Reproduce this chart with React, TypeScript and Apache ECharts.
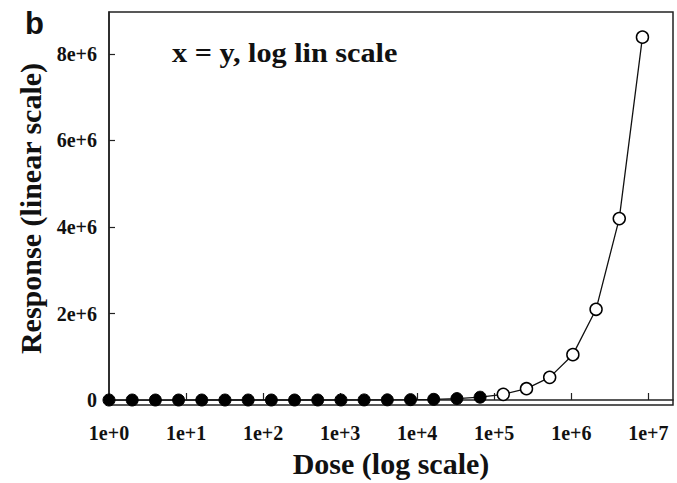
import React, { useEffect, useRef } from "react";
import * as echarts from "echarts";

// Dose values (x) — powers of two from 1 to ~8.4e6
const filledDoses = [1, 2, 4, 8, 16, 32, 64, 128, 256, 512, 1024, 2048, 4096, 8192, 16384, 32768, 65536];
const openDoses = [131072, 262144, 524288, 1048576, 2097152, 4194304, 8388608];
// Responses (y = x)
const filledResponses = [1, 2, 4, 8, 16, 32, 64, 128, 256, 512, 1024, 2048, 4096, 8192, 16384, 32768, 65536];
const openResponses = [131072, 262144, 524288, 1048576, 2097152, 4194304, 8388608];

const yTickValues = [0, 2000000, 4000000, 6000000, 8000000];
const xTickLabels = ["1e+0", "1e+1", "1e+2", "1e+3", "1e+4", "1e+5", "1e+6", "1e+7"];

const SERIF = "'Liberation Serif', 'Times New Roman', serif";

export default function App() {
  const ref = useRef<HTMLDivElement>(null);
  useEffect(() => {
    if (!ref.current) return;
    const chart = echarts.init(ref.current, null, { renderer: "svg" });
    const lineData: any[] = [];
    filledDoses.forEach((d, i) => {
      lineData.push({
        value: [d, filledResponses[i]],
        itemStyle: { color: "#000", borderColor: "#000", borderWidth: 1 },
      });
    });
    openDoses.forEach((d, i) => {
      lineData.push({
        value: [d, openResponses[i]],
        itemStyle: { color: "#fff", borderColor: "#000", borderWidth: 1.5 },
      });
    });
    chart.setOption({
      animation: false,
      backgroundColor: "#fff",
      grid: {
        left: 109,
        right: 4,
        top: 12,
        bottom: 78,
        show: true,
        borderColor: "#222",
        borderWidth: 1.5,
        backgroundColor: "transparent",
      },
      xAxis: {
        type: "log",
        logBase: 10,
        min: 1,
        max: 20900000,
        splitNumber: 7,
        name: "Dose (log scale)",
        nameLocation: "middle",
        nameGap: 43,
        nameTextStyle: { fontFamily: SERIF, fontWeight: "bold", fontSize: 30, color: "#111" },
        axisLine: { show: true, lineStyle: { color: "#222", width: 1.5 } },
        axisTick: { show: true, inside: true, length: 7, lineStyle: { color: "#222", width: 1.2 } },
        splitLine: { show: false },
        minorTick: { show: false },
        axisLabel: {
          margin: 18,
          fontFamily: SERIF,
          fontWeight: "bold",
          fontSize: 20,
          color: "#111",
          showMaxLabel: false,
          formatter: (v: number) => {
            const e = Math.log10(v);
            const r = Math.round(e);
            if (Math.abs(e - r) > 1e-6) return "";
            return xTickLabels[r] ?? "";
          },
        },
      },
      yAxis: {
        type: "value",
        min: -115000,
        max: 8970000,
        name: "Response (linear scale)",
        nameLocation: "middle",
        nameGap: 60,
        nameRotate: 90,
        nameTextStyle: { fontFamily: SERIF, fontWeight: "bold", fontSize: 30, color: "#111" },
        axisLine: { show: true, lineStyle: { color: "#222", width: 1.5 } },
        axisTick: {
          show: true,
          inside: true,
          length: 6,
          customValues: yTickValues,
          lineStyle: { color: "#222", width: 1.2 },
        },
        splitLine: { show: false },
        axisLabel: {
          margin: 12,
          customValues: yTickValues,
          fontFamily: SERIF,
          fontWeight: "bold",
          fontSize: 20,
          color: "#111",
          formatter: (v: number) => (v === 0 ? "0" : `${Math.round(v / 1e6)}e+6`),
        },
      },
      graphic: [
        {
          type: "text",
          left: 25,
          top: 8,
          style: {
            text: "b",
            fontFamily: "'Liberation Sans', Arial, sans-serif",
            fontWeight: "bold",
            fontSize: 31,
            fill: "#111",
          },
        },
        {
          type: "text",
          x: 172,
          y: 38,
          scaleX: 1.08,
          style: {
            text: "x = y, log lin scale",
            fontFamily: SERIF,
            fontWeight: "bold",
            fontSize: 28,
            fill: "#111",
          },
        },
      ],
      series: [
        {
          type: "line",
          data: lineData,
          symbol: "circle",
          symbolSize: 12,
          showSymbol: true,
          lineStyle: { color: "#111", width: 1.3 },
          z: 3,
        },
      ],
    });
    return () => chart.dispose();
  }, []);
  return (
    <div
      ref={ref}
      style={{ position: "fixed", left: 0, top: 0, width: 677, height: 483, background: "#fff" }}
    />
  );
}
